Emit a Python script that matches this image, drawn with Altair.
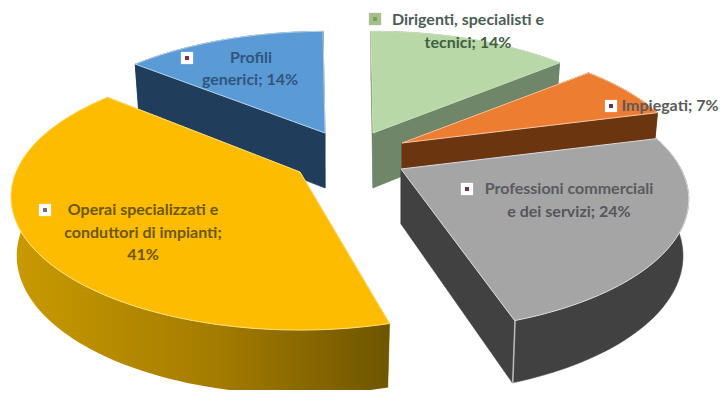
import math
import altair as alt

# --- chart values (clockwise from the top of the pie) ---
categories = ["Dirigenti, specialisti e tecnici", "Impiegati", "Professioni commerciali e dei servizi",
              "Operai specializzati e conduttori di impianti", "Profili generici"]
shares = [14, 7, 24, 41, 14]
top_colors = ["#b8d8a8", "#ed7d31", "#a5a5a5", "#fdbc00", "#5b9bd5"]
side_colors = ["#6f8768", "#6b3510", "#414141", "#a37b00", "#203d5c"]
edge_colors = ["#c9e0bd", "#f6c8a6", "#dcdcdc", "#ffe27a", "#b5d2ee"]

label_lines = ["Dirigenti, specialisti e", "tecnici; 14%", "Impiegati; 7%",
               "Professioni commerciali", "e dei servizi; 24%",
               "Operai specializzati e", "conduttori di impianti;", "41%",
               "Profili", "generici; 14%"]
label_colors = ["#4b5c58", "#41603f", "#5a5a5a", "#5a5a60", "#55555a",
                "#6e5700", "#6e5700", "#6e5700", "#2f5580", "#2f5580"]

# --- layout (page pixels, the chart starts 8px in) ---
PAGE = 8
apexes = [(373, 133), (402, 143), (401, 169), (300, 172), (325, 133)]
start_angle = -0.5
RX, RY = 280.0, 125.0
persp = [0.23, 0.23, 0.23, 0.18, 0.23]
radius_k = [1.0, 1.0, 1.0, 1.03, 1.0]
width_k = [1.0, 1.0, 1.0, 0.985, 1.0]
depth = [55.0, 55.0, 55.0, 58.0, 55.0]
start_nudge = [0, 0, 0, 3.5, 0]
end_nudge = [0, 0, 0, 1.5, 0]
BOTTOM_SHRINK = 0.98
label_xy = [(468, 20), (468, 43), (670, 106), (569, 189), (569, 212),
            (143, 210), (143, 233), (143, 255), (251, 58), (250, 80)]
key_xy = [(375, 19), (611, 106), (467, 189), (45, 210), (187, 58)]
key_fill = ["#a3bf8c", "#ffffff", "#ffffff", "#ffffff", "#ffffff"]
key_dot = ["#7f9c68", "#6d3350", "#6d3350", "#7d6a70", "#8a2f45"]


def project(i, deg, radius=1.0, drop=False):
    apex = apexes[i]
    a = math.radians(deg)
    r = radius * radius_k[i]
    x, z = r * math.sin(a), -r * math.cos(a)
    s = 1 / (1 - persp[i] * z)
    dx = RX * width_k[i] * x * s
    py = apex[1] + RY * z * s
    if drop:
        dx *= BOTTOM_SHRINK
        py += depth[i] * s ** 0.5
    return [round(apex[0] + dx - PAGE, 2), round(py - PAGE, 2)]


def poly(points, fill, stroke=None, width=0.6):
    ring = list(points) + [points[0]]
    return {"type": "Feature",
            "properties": {"fill": fill, "stroke": stroke or fill, "sw": width},
            "geometry": {"type": "Polygon", "coordinates": [ring]}}


features, yellow_rim, yellow_top = [], [], []
angle = start_angle
spans = []
for i, v in enumerate(shares):
    spans.append((angle + start_nudge[i], angle + v * 3.6 + end_nudge[i]))
    angle += v * 3.6

for i in [4, 0, 1, 2, 3]:
    a0, a1 = spans[i]
    n = max(8, int((a1 - a0) / 1.5))
    steps = [a0 + (a1 - a0) * k / n for k in range(n + 1)]
    for e in (a0, a1):
        features.append(poly([project(i, e, 0), project(i, e),
                              project(i, e, drop=True), project(i, e, 0, drop=True)], side_colors[i]))
    rim = [project(i, s) for s in steps] + [project(i, s, drop=True) for s in reversed(steps)]
    top = [project(i, 0, 0)] + [project(i, s) for s in steps]
    if i == 3:
        yellow_rim.append(poly(rim, side_colors[i]))
        yellow_top.append(poly(top, top_colors[i], edge_colors[i], 1.0))
        continue
    features.append(poly(rim, side_colors[i]))
    if i == 2:  # pale front corner of the grey slice
        p, q = project(i, a1), project(i, a1, drop=True)
        features.append(poly([p, [p[0] + 0.8, p[1]], [q[0] + 0.8, q[1]], q], "#c4c4c4"))
    features.append(poly(top, top_colors[i], edge_colors[i], 1.0))

W, H = 711, 382
PROJ = dict(type="identity", scale=1, translate=[0, 0])

shape_enc = dict(
    fill=alt.Fill("properties.fill:N", scale=None),
    stroke=alt.Stroke("properties.stroke:N", scale=None),
    strokeWidth=alt.StrokeWidth("properties.sw:Q", scale=None),
)
base = alt.Chart(alt.Data(values=features)).mark_geoshape().encode(**shape_enc).project(**PROJ)

rim_gradient = alt.LinearGradient(
    gradient="linear", x1=0, x2=1, y1=0, y2=0,
    stops=[alt.GradientStop(offset=0, color="#c99a00"),
           alt.GradientStop(offset=0.55, color="#a37b00"),
           alt.GradientStop(offset=1, color="#6f5500")])
rim_layer = alt.Chart(alt.Data(values=yellow_rim)).mark_geoshape(
    fill=rim_gradient, strokeWidth=0).project(**PROJ)
top_layer = alt.Chart(alt.Data(values=yellow_top)).mark_geoshape().encode(**shape_enc).project(**PROJ)

keys = alt.Chart(alt.Data(values=[
    {"x": p[0] - PAGE, "y": p[1] - PAGE, "f": f, "d": d}
    for p, f, d in zip(key_xy, key_fill, key_dot)]))
key_box = keys.mark_square(size=150, opacity=1, cornerRadius=2).encode(
    x=alt.X("x:Q", scale=None), y=alt.Y("y:Q", scale=None),
    fill=alt.Fill("f:N", scale=None))
key_in = keys.mark_square(size=16, opacity=1).encode(
    x=alt.X("x:Q", scale=None), y=alt.Y("y:Q", scale=None),
    fill=alt.Fill("d:N", scale=None))

labels = alt.Chart(alt.Data(values=[
    {"x": p[0] - PAGE, "y": p[1] - PAGE, "t": t, "c": c}
    for p, t, c in zip(label_xy, label_lines, label_colors)])).mark_text(
    font="Lato", fontWeight="bold", fontSize=16, align="center", baseline="middle"
).encode(
    x=alt.X("x:Q", scale=None), y=alt.Y("y:Q", scale=None),
    text="t:N", color=alt.Color("c:N", scale=None))

chart = alt.layer(base, rim_layer, top_layer, key_box, key_in, labels).properties(
    width=W, height=H, padding=0, background="white",
    autosize=alt.AutoSizeParams(type="none")
).configure_view(stroke=None).configure_axis(disable=True)

chart.save("out.html", embed_options={"renderer": "svg", "actions": False})
